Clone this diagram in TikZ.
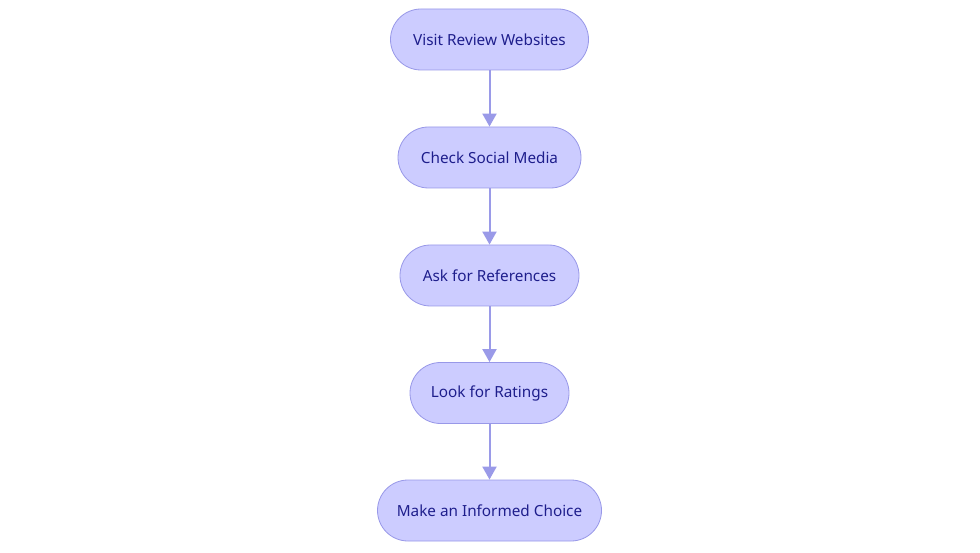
\documentclass[tikz,border=0pt]{standalone}
\usepackage{fontspec}
\setmainfont{Noto Sans}
\usetikzlibrary{arrows.meta}
\definecolor{nodefill}{HTML}{CCCCFF}
\definecolor{nodeline}{HTML}{9898E8}
\definecolor{nodetext}{HTML}{1E1E8C}
\definecolor{arrowcol}{HTML}{9A9AE8}
\begin{document}
\begin{tikzpicture}[x=1pt,y=-1pt,
  flowbox/.style={draw=nodeline, line width=0.8pt, fill=nodefill, rounded corners=30.5pt,
    minimum height=61pt, inner sep=0pt, text=nodetext,
    font=\fontsize{15.3}{18}\selectfont},
  flowarrow/.style={draw=arrowcol, line width=2pt, -{Triangle[length=13pt,width=14pt]}}]
\useasboundingbox (0,0) rectangle (980,553);
\node[flowbox, minimum width=198pt] (a) at (489.5,39.5) {Visit Review Websites};
\node[flowbox, minimum width=183pt] (b) at (489.5,157.5) {Check Social Media};
\node[flowbox, minimum width=179pt] (c) at (489.5,275.5) {Ask for References};
\node[flowbox, minimum width=159pt] (d) at (489.5,393) {Look for Ratings};
\node[flowbox, minimum width=224pt] (e) at (489.5,510.5) {Make an Informed Choice};
\draw[flowarrow] (a) -- (b);
\draw[flowarrow] (b) -- (c);
\draw[flowarrow] (c) -- (d);
\draw[flowarrow] (d) -- (e);
\end{tikzpicture}
\end{document}
